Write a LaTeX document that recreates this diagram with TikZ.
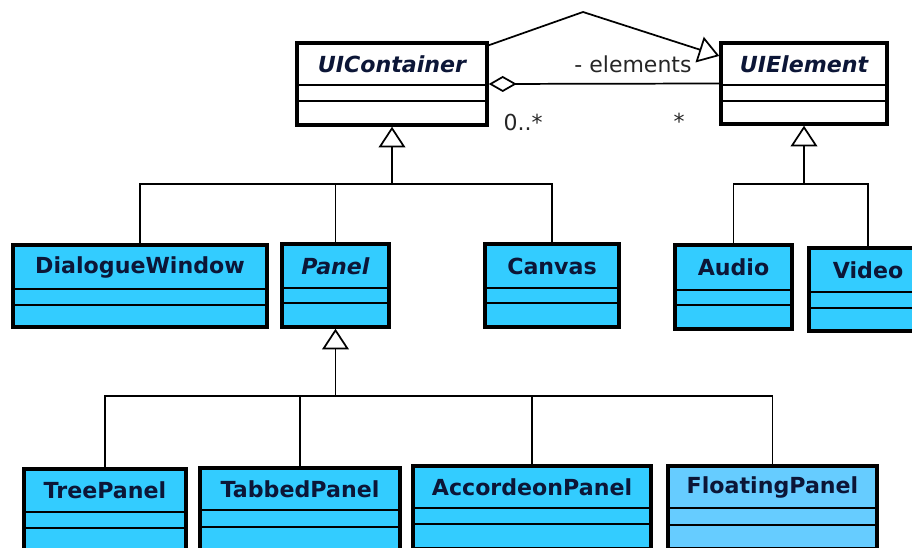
\documentclass[tikz,border=0pt]{standalone}
\usepackage{fontspec}
\setmainfont{DejaVu Sans}
\usepackage{tikz}
\usetikzlibrary{calc,arrows.meta}

\definecolor{clsblue}{RGB}{51,204,255}
\definecolor{floatblue}{RGB}{102,204,255}
\definecolor{clstext}{RGB}{12,22,55}

%UML class box: name, fill, left, top, right, bottom, sep1, sep2, title
\newcommand{\umlclass}[9]{%
  \node[clsbox,fill=#2,minimum width={(#5-#3)*0.75pt},minimum height={(#6-#4)*0.75pt}] (#1) at ({(#3+#5)/2},{(#4+#6)/2}) {};
  \draw[seprule] (#3,#7) -- (#5,#7);
  \draw[seprule] (#3,#8) -- (#5,#8);
  \node[clstitle] (#1t) at ({(#3+#5)/2},{(#4+#7)/2}) {#9};
}

\begin{document}
\begin{tikzpicture}
[x=0.75pt,y=-0.75pt,
clsbox/.style={draw=black,line width=2.6pt,inner sep=0pt,rectangle},
seprule/.style={draw=black,line width=1.1pt},
clstitle/.style={font=\fontsize{16.6}{19}\selectfont\bfseries,text=clstext,inner sep=0pt},
conn/.style={draw=black,line width=1.3pt},
gen/.style={conn,-{Triangle[open,length=15.5pt,width=20pt]}},
lbl/.style={font=\fontsize{16.5}{19}\selectfont,text=black!85,inner sep=0pt},]

\useasboundingbox (0,0) rectangle (912,548);
\clip (0,0) rectangle (912,548);

%Classes
\umlclass{uicont}{white}{297}{43}{487}{125}{85}{101}{\itshape UIContainer}
\umlclass{uielem}{white}{721}{43}{887}{124}{85}{101}{\itshape UIElement}

\umlclass{dialog}{clsblue}{13}{245}{267}{327}{289}{305}{DialogueWindow}
\umlclass{panel}{clsblue}{282}{244}{389}{327}{288}{303}{\itshape Panel}
\umlclass{canvas}{clsblue}{485}{244}{619}{327}{288}{303}{Canvas}
\umlclass{audio}{clsblue}{675}{245}{792}{329}{290}{305}{Audio}
\umlclass{video}{clsblue}{809}{248}{927}{331}{292}{308}{Video}

\umlclass{tree}{clsblue}{24}{469}{186}{552}{512}{528}{TreePanel}
\umlclass{tabbed}{clsblue}{200}{468}{400}{551}{510}{527}{TabbedPanel}
\umlclass{accord}{clsblue}{413}{466}{651}{549}{508}{524}{AccordeonPanel}
\umlclass{floating}{floatblue}{668}{466}{877}{549}{508}{525}{FloatingPanel}

%Junction points
\coordinate (g1) at (uicont.south |- 0,184);
\coordinate (g2) at (uielem.south |- 0,184);
\coordinate (g3) at (panel.south |- 0,396);
\coordinate (bend) at (583,12);

%Generalizations
\draw[conn] (dialog.north) |- (canvas.north |- g1) -- (canvas.north);
\draw[conn] (panel.north) -- (panel.north |- g1);
\draw[gen] (g1) -- (uicont.south);

\draw[conn] (audio.north) |- (video.north |- g2) -- (video.north);
\draw[gen] (g2) -- (uielem.south);

\draw[conn] (tree.north) |- (floating.north |- g3) -- (floating.north);
\draw[conn] (tabbed.north) -- (tabbed.north |- g3);
\draw[conn] (accord.north) -- (accord.north |- g3);
\draw[gen] (g3) -- (panel.south);

\draw[gen] ([yshift=-3pt]uicont.north east) -- (bend) -- ([yshift=-11pt]uielem.north west);

%Aggregation
\draw[conn,{Diamond[open,length=21pt,width=12pt]}-] (uicont.east) -- (uielem.west);

%Labels
\node[lbl] (elems) at (633,64) {- elements};
\node[lbl] (multa) at (523,122) {0..*};
\node[lbl] (multb) at (679,121) {*};

\end{tikzpicture}
\end{document}
